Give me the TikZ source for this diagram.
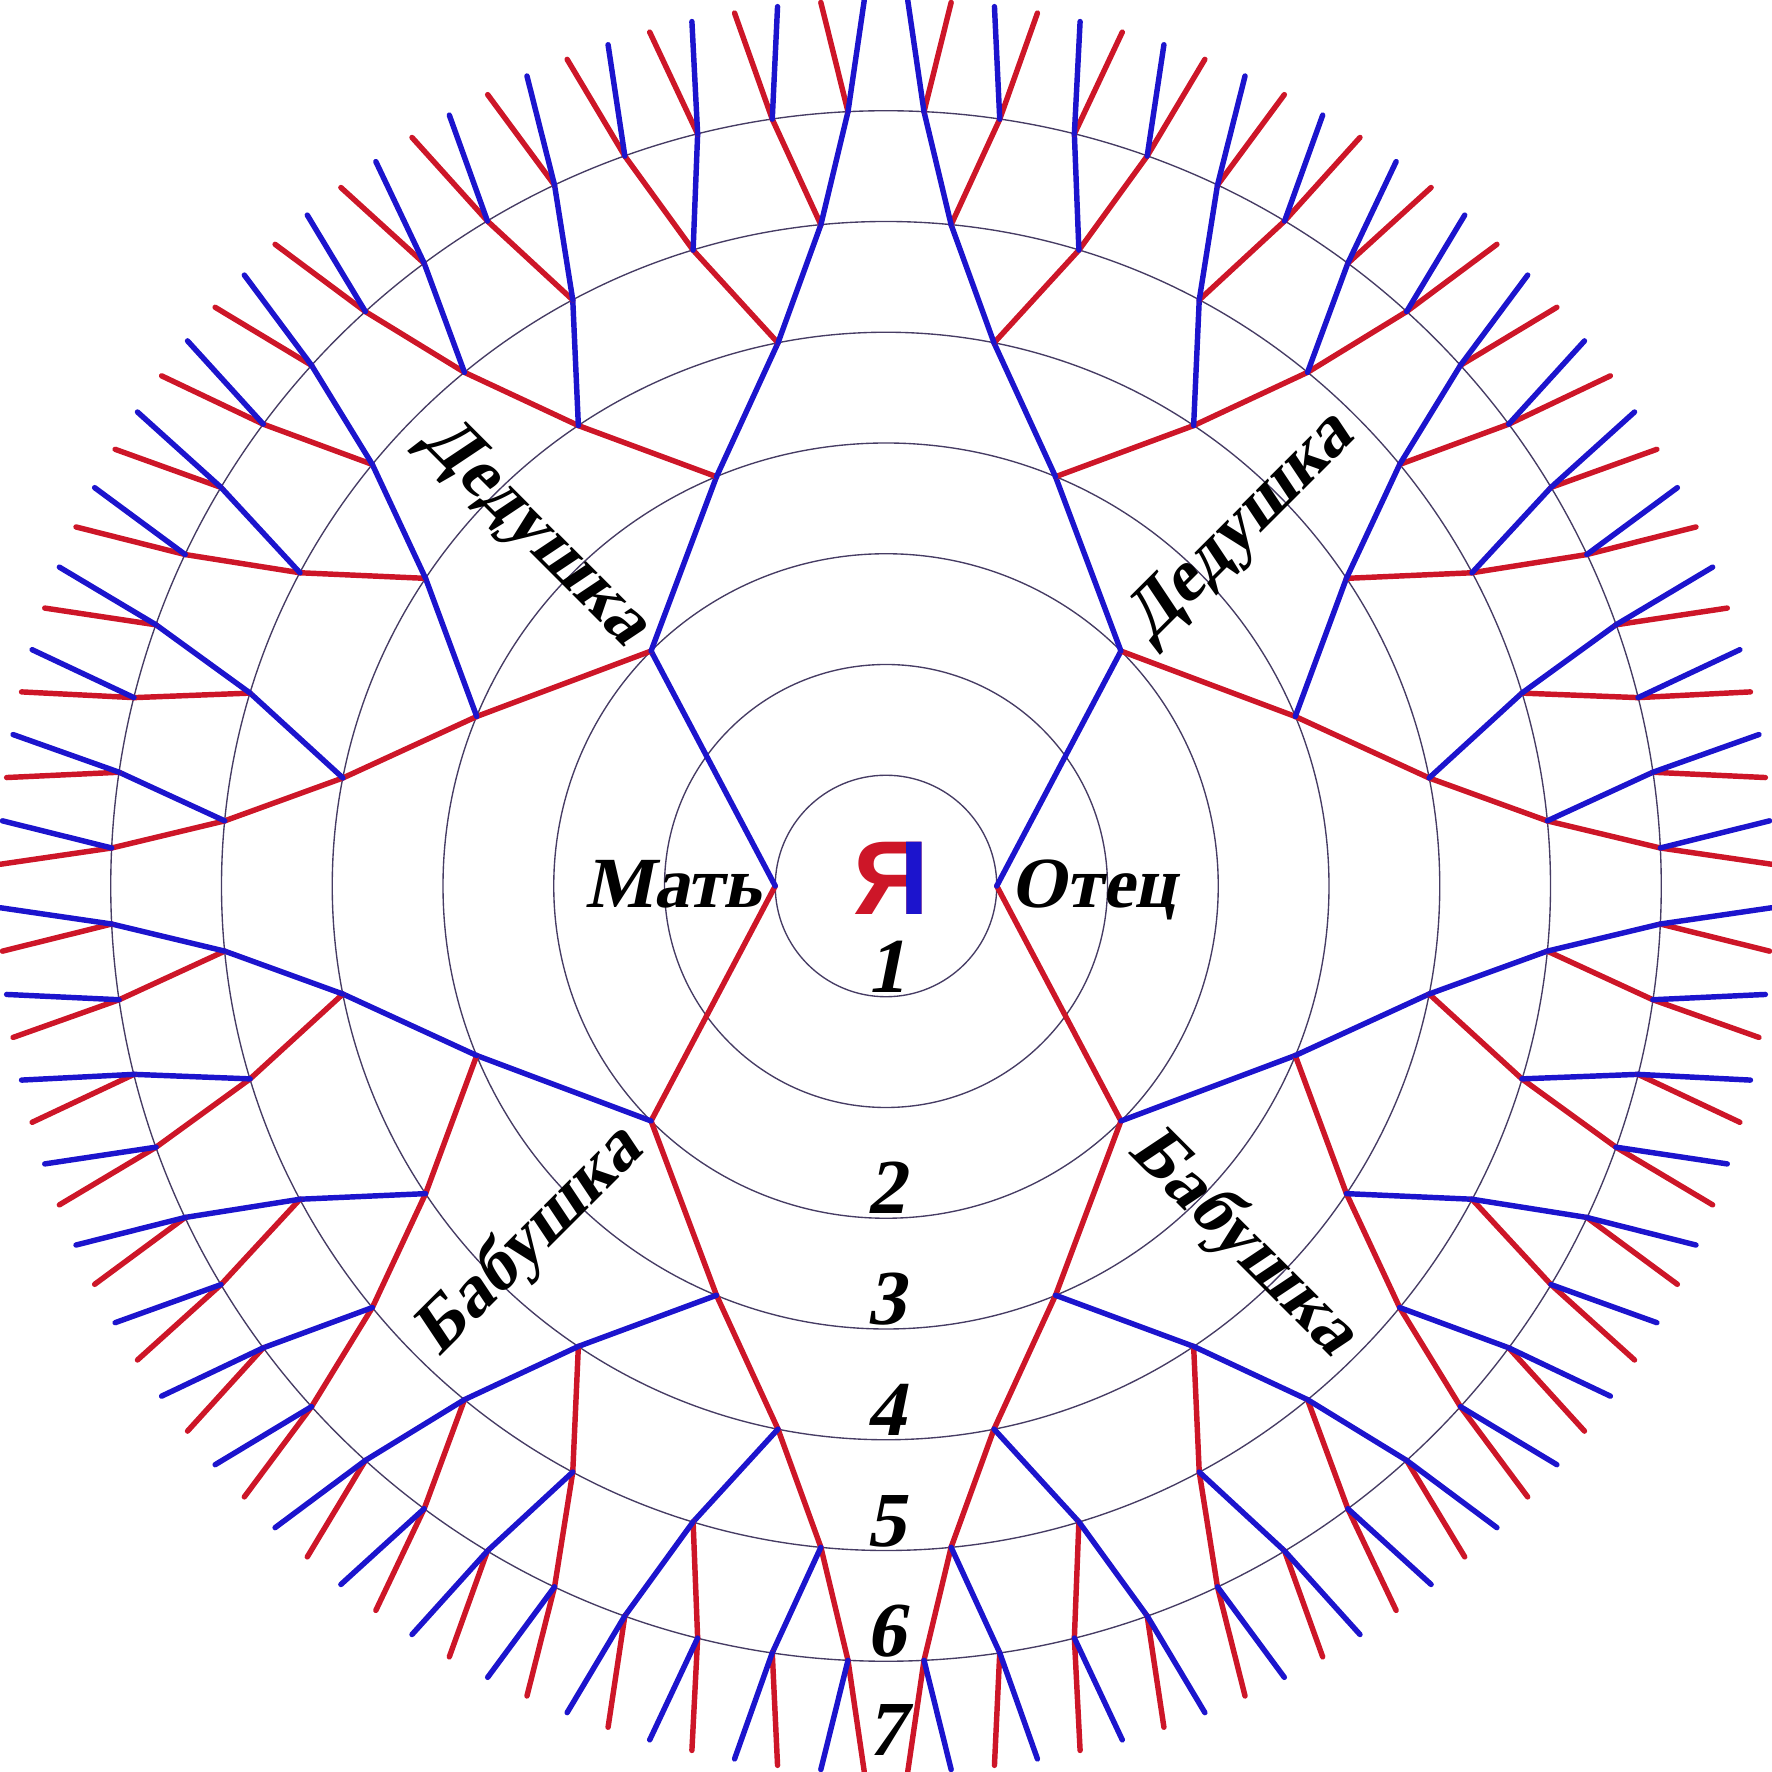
\documentclass[tikz,border=0pt]{standalone}
\usepackage{fontspec}
\setmainfont{Liberation Serif}
\newfontfamily\kinfont[FakeSlant=0.2]{Liberation Serif}
\newfontfamily\yafont{Liberation Sans}
\definecolor{maleblue}{RGB}{28,20,205}
\definecolor{femalered}{RGB}{205,22,40}
\definecolor{ringgray}{RGB}{70,60,100}

\begin{document}
\begin{tikzpicture}[
        ring/.style={ringgray, line width=0.35pt},
        male/.style={maleblue, line width=1.4pt, line cap=round},
        female/.style={femalered, line width=1.4pt, line cap=round},
        kin/.style={font=\fontsize{18.5}{22}\selectfont\kinfont\bfseries, inner sep=0pt},
        gennum/.style={font=\fontsize{20}{24}\selectfont\kinfont\bfseries, inner sep=0pt, anchor=base},
        me/.style={font=\fontsize{27}{30}\selectfont\yafont\bfseries, inner sep=0pt}
    ]
        \useasboundingbox (-8,-8) rectangle (8,8);
        % rings
        \foreach \r in {1,...,7}
            \draw [ring] (0,0) circle (\r);
        % parents
        \coordinate (R1-0) at (0:1);
        \coordinate (L1-0) at (180:1);
        % ancestors: right half and its mirror image
        \foreach \g in {2,...,7} {
            \pgfmathtruncatemacro\pg{\g-1}
            \pgfmathtruncatemacro\last{2^\pg-1}
            \pgfmathsetmacro\step{180/2^\g}
            \foreach \k in {0,...,\last} {
                \pgfmathtruncatemacro\p{floor(\k/2)}
                \pgfmathsetmacro\a{-90+(2*\k+1)*\step}
                \ifodd\k\relax \def\who{male}\else \def\who{female}\fi
                \coordinate (R\g-\k) at (\a:\g+1);
                \coordinate (L\g-\k) at (180-\a:\g+1);
                \draw [\who] (R\pg-\p) -- (R\g-\k);
                \draw [\who] (L\pg-\p) -- (L\g-\k);
            }
        }
        % me
        \node [me, femalered] (me) at (0.05,0.07) {Я};
        \begin{scope}
            \clip ([xshift=-0.21cm]me.south east) rectangle (me.north east);
            \node [me, maleblue] (me2) at (me.center) {Я};
        \end{scope}
        \node [kin, anchor=base east] (mat) at (-1.12,-0.19) {Мать};
        \node [kin, anchor=base west] (otec) at (1.12,-0.19) {Отец};
        \node [kin, rotate=-45] (dedL) at (135:4.5) {Дедушка};
        \node [kin, rotate=45] (dedR) at (45:4.55) {Дедушка};
        \node [kin, rotate=45] (babL) at (225:4.55) {Бабушка};
        \node [kin, rotate=-45] (babR) at (-45:4.55) {Бабушка};
        % generation numbers
        \node [gennum] (n1) at (0,-0.96) {1};
        \foreach \n in {2,...,6}
            \node [gennum] (n\n) at (0,-\n-0.96) {\n};
        \node [gennum] (n7) at (0,-7.85) {7};
    \end{tikzpicture}
\end{document}
